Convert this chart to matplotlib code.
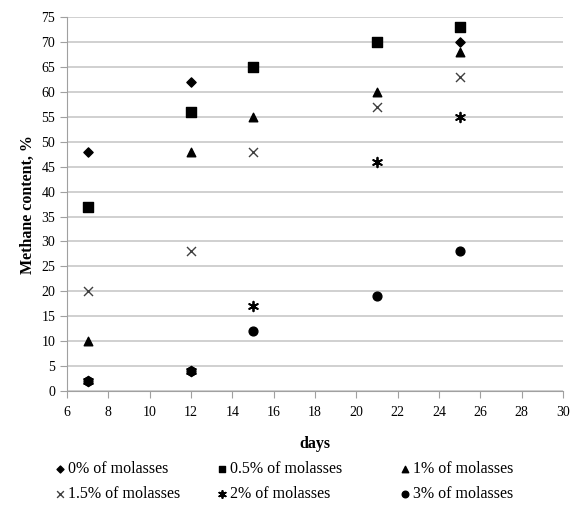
import matplotlib.pyplot as plt

plt.rcParams['font.family'] = ['Liberation Serif', 'DejaVu Serif']

# data
days0 = [7, 12, 25]
m0 = [48, 62, 70]
days = [7, 12, 15, 21, 25]
m05 = [37, 56, 65, 70, 73]
m1 = [10, 48, 55, 60, 68]
m15 = [20, 28, 48, 57, 63]
m2 = [2, 4, 17, 46, 55]
m3 = [2, 4, 12, 19, 28]

fig = plt.figure(figsize=(5.74, 5.05), dpi=100)
ax = fig.add_axes([0.1167, 0.2257, 0.8643, 0.7403])

h0 = ax.scatter(days0, m0, marker='D', s=22, color='black', label='0% of molasses', zorder=3)
h05 = ax.scatter(days, m05, marker='s', s=42, color='black', label='0.5% of molasses', zorder=3)
h1 = ax.scatter(days, m1, marker='^', s=38, color='black', label='1% of molasses', zorder=3)
h15 = ax.scatter(days, m15, marker='x', s=42, color='#404040', linewidths=1, label='1.5% of molasses', zorder=3)
h2 = ax.scatter(days, m2, marker=(6, 2, 0), s=48, color='black', linewidths=1.3, label='2% of molasses', zorder=3)
h3 = ax.scatter(days, m3, marker='o', s=40, color='black', label='3% of molasses', zorder=3)

ax.set_xlim(6, 30)
ax.set_ylim(0, 75)
ax.set_xticks(range(6, 31, 2))
ax.set_yticks(range(0, 76, 5))
ax.yaxis.grid(True, color='#c8c8c8', linewidth=1.2)
ax.set_axisbelow(True)
for s in ['top', 'right']:
    ax.spines[s].set_visible(False)
ax.spines['left'].set_color('#a0a0a0')
ax.spines['bottom'].set_color('#a0a0a0')
ax.tick_params(axis='both', colors='#a0a0a0', labelcolor='black', labelsize=10, length=5, direction='out')
ax.tick_params(axis='x', pad=6)

ax.set_xlabel('days', fontsize=11.5, fontweight='bold', labelpad=12)
ax.set_ylabel('Methane content, %', fontsize=11.5, fontweight='bold', labelpad=4)

# legend: three columns of two entries each
cols = [[h0, h15], [h05, h2], [h1, h3]]
xpos = [0.0906, 0.373, 0.692]
for hs, x in zip(cols, xpos):
    fig.legend(handles=hs, labels=[h.get_label() for h in hs],
               loc='lower left', bbox_to_anchor=(x, 0.006), frameon=False,
               fontsize=11.5, handletextpad=0.0, labelspacing=0.55,
               handlelength=1.0, markerscale=0.75, borderpad=0, borderaxespad=0)

fig.savefig('out.png', dpi=100)
